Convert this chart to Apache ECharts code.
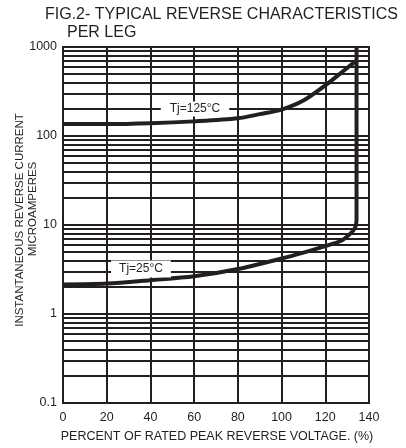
<!DOCTYPE html>
<html>
<head>
<meta charset="utf-8">
<script src="https://cdn.jsdelivr.net/npm/echarts@6/dist/echarts.min.js"></script>
<style>
html, body { margin: 0; padding: 0; background: #fff; }
#chart { width: 406px; height: 448px; }
</style>
</head>
<body>
<div id="chart"></div>
<script>
// 读图得到的数据
const xTicks = [0, 20, 40, 60, 80, 100, 120, 140];
const yTicks = [0.1, 1, 10, 100, 1000];
const minorSteps = [2, 3, 4, 5, 6, 7, 8, 9];

const tj125 = [
  [0, 136], [20, 136], [40, 139], [60, 146], [80, 158], [90, 176],
  [100, 198], [110, 250], [120, 370], [130, 580], [134.2, 700]
];
const tj25 = [
  [0, 2.15], [20, 2.2], [40, 2.4], [60, 2.65], [80, 3.2], [100, 4.2],
  [110, 4.9], [120, 5.8], [127, 6.6], [131, 7.8], [133.6, 9.3], [134.3, 11.5], [134.3, 1000]
];

const ink = "#231f20";
const font = "Liberation Sans, Arial, sans-serif";

// 对数坐标的次网格线 2..9
const minorLines = [];
yTicks.slice(0, -1).forEach(d => {
  minorSteps.forEach(m => minorLines.push({ yAxis: +(d * m).toPrecision(3) }));
});

const chart = echarts.init(document.getElementById("chart"));

const option = {
  animation: false,
  grid: {
    left: 63,
    right: 37,
    top: 47,
    bottom: 45,
    show: true,
    borderColor: ink,
    borderWidth: 2,
  },
  xAxis: {
    type: "value",
    min: 0,
    max: 140,
    interval: 20,
    axisLine: { show: true, lineStyle: { color: ink, width: 2 } },
    axisTick: { show: false },
    axisLabel: {
      color: ink,
      fontSize: 12.5,
      fontFamily: font,
      margin: 8,
      formatter: v => (xTicks.includes(v) ? String(v) : ""),
    },
    splitLine: { show: true, lineStyle: { color: ink, width: 2 } },
  },
  yAxis: {
    type: "log",
    logBase: 10,
    min: 0.1,
    max: 1000,
    axisLine: { show: true, lineStyle: { color: ink, width: 2 } },
    axisTick: { show: false },
    axisLabel: {
      color: ink,
      fontSize: 12.5,
      fontFamily: font,
      margin: 6,
      formatter: v => String(+v.toPrecision(3)),
    },
    splitLine: { show: true, lineStyle: { color: ink, width: 2 } },
  },
  series: [
    {
      // 只用来画次网格线
      type: "line",
      data: [],
      silent: true,
      z: 1,
      markLine: {
        silent: true,
        symbol: "none",
        label: { show: false },
        lineStyle: { color: ink, width: 2, type: "solid" },
        data: minorLines,
        animation: false,
      },
    },
    {
      name: "Tj=125°C",
      type: "line",
      data: tj125,
      smooth: 0.3,
      showSymbol: false,
      z: 5,
      lineStyle: { color: ink, width: 4 },
    },
    {
      name: "Tj=25°C",
      type: "line",
      data: tj25,
      smooth: 0.3,
      showSymbol: false,
      z: 5,
      lineStyle: { color: ink, width: 4 },
    },
  ],
  graphic: [
    {
      type: "text",
      left: 45,
      top: 7,
      style: { text: "FIG.2- TYPICAL REVERSE CHARACTERISTICS", fill: ink, font: "16px " + font },
    },
    {
      type: "text",
      left: 67,
      top: 25,
      style: { text: "PER LEG", fill: ink, font: "16px " + font },
    },
    {
      type: "text",
      x: 20,
      y: 220,
      rotation: Math.PI / 2,
      style: {
        text: "INSTANTANEOUS REVERSE CURRENT",
        fill: ink,
        font: "11.5px " + font,
        align: "center",
        verticalAlign: "middle",
      },
    },
    {
      type: "text",
      x: 33,
      y: 209,
      rotation: Math.PI / 2,
      style: {
        text: "MICROAMPERES",
        fill: ink,
        font: "11.5px " + font,
        align: "center",
        verticalAlign: "middle",
      },
    },
    {
      type: "text",
      x: 217,
      y: 437,
      style: {
        text: "PERCENT OF RATED PEAK REVERSE VOLTAGE. (%)",
        fill: ink,
        font: "12.5px " + font,
        align: "center",
        verticalAlign: "middle",
      },
    },
    {
      type: "text",
      x: 195,
      y: 109,
      z: 100,
      style: {
        text: "Tj=125°C",
        fill: ink,
        font: "12px " + font,
        align: "center",
        verticalAlign: "middle",
        backgroundColor: "#fff",
        padding: [2, 9, 1, 9],
      },
    },
    {
      type: "text",
      x: 141,
      y: 269,
      z: 100,
      style: {
        text: "Tj=25°C",
        fill: ink,
        font: "12px " + font,
        align: "center",
        verticalAlign: "middle",
        backgroundColor: "#fff",
        padding: [3, 8, 2, 8],
      },
    },
  ],
};

chart.setOption(option);
</script>
</body>
</html>
